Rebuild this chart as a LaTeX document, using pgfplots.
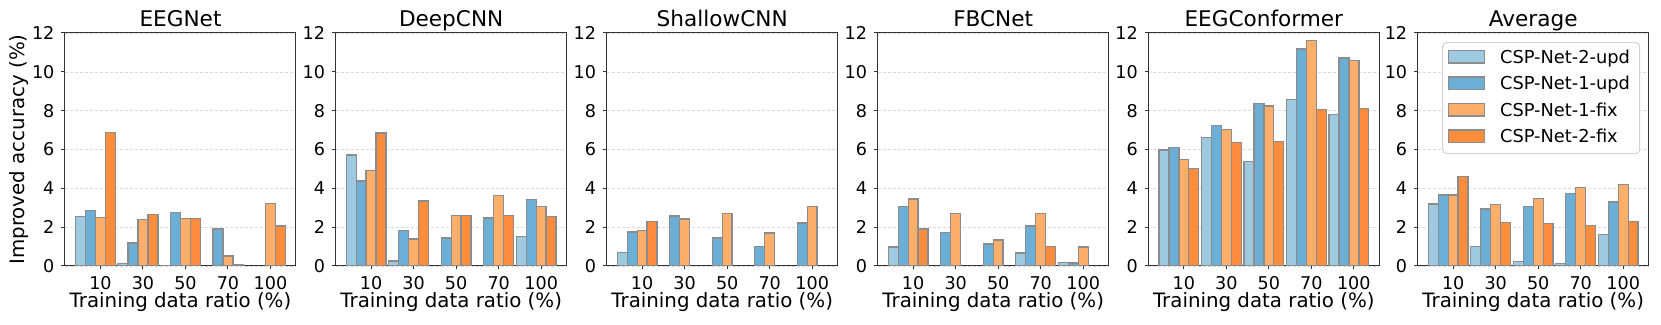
\documentclass[border=0pt]{standalone}
\usepackage{fontspec}
\setmainfont{DejaVu Sans}
\usepackage{pgfplots}
\usepackage{pgfplotstable}
\pgfplotsset{compat=1.18}

\definecolor{cA}{HTML}{9ECAE1}
\definecolor{cB}{HTML}{6BAED6}
\definecolor{cC}{HTML}{FDAE6B}
\definecolor{cD}{HTML}{FD8D3C}
\definecolor{edgec}{HTML}{8C8C8C}

% columns: ratio index, CSP-Net-2-upd, CSP-Net-1-upd, CSP-Net-1-fix, CSP-Net-2-fix
\pgfplotstableread{
x a b c d
0 2.55 2.86 2.50 6.86
1 0.12 1.19 2.38 2.66
2 0.03 2.76 2.45 2.45
3 nan 1.91 0.52 0.07
4 nan nan 3.21 2.07
}\eegnet
\pgfplotstableread{
x a b c d
0 5.71 4.38 4.91 6.84
1 0.26 1.84 1.38 3.34
2 nan 1.45 2.59 2.60
3 nan 2.47 3.62 2.59
4 1.53 3.41 3.05 2.55
}\deepcnn
\pgfplotstableread{
x a b c d
0 0.71 1.76 1.83 2.29
1 nan 2.57 2.41 nan
2 nan 1.45 2.69 nan
3 nan 1.00 1.69 nan
4 nan 2.22 3.05 nan
}\shallowcnn
\pgfplotstableread{
x a b c d
0 0.98 3.05 3.45 1.91
1 nan 1.71 2.71 nan
2 nan 1.14 1.33 nan
3 0.66 2.07 2.71 1.00
4 0.19 0.16 0.98 nan
}\fbcnet
\pgfplotstableread{
x a b c d
0 5.97 6.11 5.47 5.03
1 6.63 7.25 7.02 6.37
2 5.39 8.38 8.23 6.40
3 8.57 11.17 11.62 8.07
4 7.81 10.71 10.59 8.11
}\conformer
\pgfplotstableread{
x a b c d
0 3.20 3.65 3.65 4.61
1 1.00 2.93 3.18 2.24
2 0.24 3.05 3.48 2.19
3 0.12 3.73 4.03 2.08
4 1.62 3.29 4.20 2.29
}\average

\pgfplotsset{
  panel/.style={
    scale only axis, width=115.5pt, height=116.5pt,
    anchor=south west,
    ymin=0, ymax=12, ytick={0,2,...,12},
    xmin=-0.835, xmax=4.60, xtick={0,1,2,3,4}, xticklabels={10,30,50,70,100},
    /pgf/number format/assume math mode=true,
    tick label style={font=\fontsize{8.8}{10}\selectfont},
    tick align=outside, tick pos=left, major tick length=1.75pt,
    tick style={black!80, line width=0.5pt},
    axis line style={black!80, line width=0.5pt},
    ymajorgrids, grid style={gray!30, line width=0.3pt, dash pattern=on 1.5pt off 1pt},
    unbounded coords=discard,
    xlabel={Training data ratio (\%)},
    xlabel style={font=\fontsize{9.9}{12}\selectfont, at={(axis description cs:0.5,0)}, anchor=base, yshift=-21pt},
    every axis title shift=0pt,
    title style={font=\fontsize{10.8}{13}\selectfont, at={(axis description cs:0.5,1)}, anchor=base, yshift=3.2pt},
  },
  barA/.style={ybar, bar width=0.235, bar shift=-0.47, fill=cA, draw=edgec, line width=0.7pt},
  barB/.style={ybar, bar width=0.235, bar shift=-0.235, fill=cB, draw=edgec, line width=0.7pt},
  barC/.style={ybar, bar width=0.235, bar shift=0, fill=cC, draw=edgec, line width=0.7pt},
  barD/.style={ybar, bar width=0.235, bar shift=0.235, fill=cD, draw=edgec, line width=0.7pt},
}
\newcommand{\bars}[1]{%
  \addplot[barA] table[x=x, y=a] {#1};
  \addplot[barB] table[x=x, y=b] {#1};
  \addplot[barC] table[x=x, y=c] {#1};
  \addplot[barD] table[x=x, y=d] {#1};
}

\begin{document}
\begin{tikzpicture}
\path[use as bounding box] (0,0) rectangle (830.5pt,162.5pt);

\begin{axis}[panel, at={(32.5pt,29.5pt)}, title={EEGNet},
  ylabel={Improved accuracy (\%)},
  ylabel style={font=\fontsize{9.9}{12}\selectfont, at={([xshift=-20.3pt]axis description cs:0,0.5)}, anchor=base}]
\bars{\eegnet}
\end{axis}

\begin{axis}[panel, at={(167.85pt,29.5pt)}, title={DeepCNN}]
\bars{\deepcnn}
\end{axis}

\begin{axis}[panel, at={(303.35pt,29.5pt)}, title={ShallowCNN}]
\bars{\shallowcnn}
\end{axis}

\begin{axis}[panel, at={(438.85pt,29.5pt)}, title={FBCNet}]
\bars{\fbcnet}
\end{axis}

\begin{axis}[panel, at={(574.15pt,29.5pt)}, title={EEGConformer}]
\bars{\conformer}
\end{axis}

\begin{axis}[panel, at={(708.85pt,29.5pt)}, title={Average}, name=avg]
\bars{\average}
\end{axis}

% legend of the Average panel
\begin{scope}[shift={([xshift=-4.5pt,yshift=-4.8pt]avg.north east)}]
  \draw[gray!35, line width=0.5pt, rounded corners=2pt, fill=white] (-98.5pt,0pt) rectangle (0pt,-55.5pt);
  \foreach \c/\t [count=\i from 0] in {cA/CSP-Net-2-upd, cB/CSP-Net-1-upd, cC/CSP-Net-1-fix, cD/CSP-Net-2-fix} {
    \draw[fill=\c, draw=edgec, line width=0.7pt]
      (-95.5pt,{-4pt-\i*13.25pt}) rectangle (-77.5pt,{-10.3pt-\i*13.25pt});
    \node[anchor=base west, inner sep=0pt, font=\fontsize{8.9}{10.7}\selectfont]
      at (-70pt,{-10.3pt-\i*13.25pt}) {\t};
  }
\end{scope}
\end{tikzpicture}
\end{document}
